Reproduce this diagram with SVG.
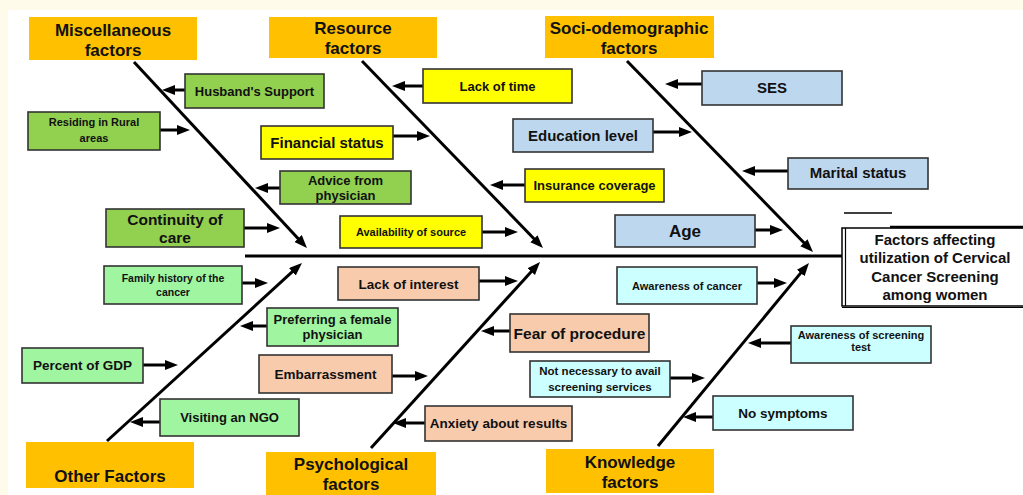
<svg xmlns="http://www.w3.org/2000/svg" width="1023" height="495" viewBox="0 0 1023 495">
<style>
text{font-family:"Liberation Sans",Arial,sans-serif;font-weight:bold;fill:#111;text-anchor:middle}
.box{stroke:#333;stroke-width:1.6}
.cat{fill:#ffc000}
.g{fill:#92d050}
.lg{fill:#a0f5a0}
.y{fill:#ffff00}
.b{fill:#bdd7ee}
.c{fill:#ccffff}
.p{fill:#f8cbad}
.ln{stroke:#000;stroke-width:3;fill:none}
.arr{stroke:#000;stroke-width:3;fill:none;marker-end:url(#ah)}
</style>
<defs>
<marker id="ah" markerUnits="userSpaceOnUse" markerWidth="14" markerHeight="12" refX="6" refY="5" orient="auto">
<path d="M0,0 L13,5 L0,10 z" fill="#000"/>
</marker>
</defs>
<rect width="1023" height="495" fill="#fffbea"/>
<rect x="8" y="10" width="1015" height="485" fill="#fff"/>

<g id="connectors">
<line class="ln" x1="245" y1="256" x2="843" y2="256"/>
<line class="arr" x1="134" y1="62" x2="302.2" y2="242.9"/>
<line class="arr" x1="362" y1="61" x2="538.1" y2="243"/>
<line class="arr" x1="627" y1="61" x2="808.1" y2="247"/>
<line class="arr" x1="107" y1="441" x2="296.8" y2="267.7"/>
<line class="arr" x1="371" y1="448" x2="535.3" y2="267.2"/>
<line class="arr" x1="658" y1="446" x2="804.5" y2="268.4"/>
<line class="arr" x1="185" y1="90" x2="169" y2="90"/>
<line class="arr" x1="160" y1="130" x2="183" y2="130"/>
<line class="arr" x1="393" y1="136" x2="423" y2="136"/>
<line class="arr" x1="280" y1="188" x2="262" y2="188"/>
<line class="arr" x1="244" y1="228" x2="273" y2="228"/>
<line class="arr" x1="423" y1="86" x2="399" y2="86"/>
<line class="arr" x1="653" y1="132" x2="685" y2="132"/>
<line class="arr" x1="525" y1="185" x2="497" y2="185"/>
<line class="arr" x1="482" y1="232" x2="511" y2="232"/>
<line class="arr" x1="702" y1="84" x2="672" y2="84"/>
<line class="arr" x1="788" y1="171" x2="749" y2="171"/>
<line class="arr" x1="755" y1="230" x2="776" y2="230"/>
<line class="arr" x1="757" y1="283" x2="780" y2="283"/>
<line class="arr" x1="242" y1="283" x2="261" y2="283"/>
<line class="arr" x1="267" y1="326" x2="247" y2="326"/>
<line class="arr" x1="143" y1="365" x2="171" y2="365"/>
<line class="arr" x1="160" y1="422" x2="137" y2="422"/>
<line class="arr" x1="479" y1="281" x2="511" y2="281"/>
<line class="arr" x1="510" y1="331" x2="488" y2="331"/>
<line class="arr" x1="392" y1="376" x2="421" y2="376"/>
<line class="arr" x1="425" y1="423" x2="400" y2="423"/>
<line class="arr" x1="670" y1="378" x2="698" y2="378"/>
<line class="arr" x1="791" y1="343" x2="755" y2="343"/>
<line class="arr" x1="713" y1="417" x2="690" y2="417"/>
<line x1="844" y1="213" x2="892" y2="213" stroke="#000" stroke-width="1.5"/>
</g>

<g id="misc"><rect class="cat" x="29" y="17" width="168" height="43"/><text x="113" y="36" font-size="17">Miscellaneous</text><text x="113" y="56" font-size="17">factors</text></g>
<g id="resource"><rect class="cat" x="269" y="17" width="168" height="41"/><text x="353" y="34" font-size="17">Resource</text><text x="353" y="54" font-size="17">factors</text></g>
<g id="socio"><rect class="cat" x="545" y="16" width="169" height="42"/><text x="629" y="34" font-size="17">Soci-odemographic</text><text x="629" y="54" font-size="17">factors</text></g>
<g id="other"><rect class="cat" x="26" y="442" width="168" height="46"/><text x="110" y="482" font-size="17">Other Factors</text></g>
<g id="psych"><rect class="cat" x="266" y="452" width="170" height="43"/><text x="351" y="470" font-size="17">Psychological</text><text x="351" y="490" font-size="17">factors</text></g>
<g id="knowledge"><rect class="cat" x="546" y="449" width="168" height="44"/><text x="630" y="468" font-size="17">Knowledge</text><text x="630" y="488" font-size="17">factors</text></g>

<g id="husband"><rect class="box g" x="185" y="74" width="139" height="34"/><text x="254.5" y="96" font-size="13">Husband's Support</text></g>
<g id="rural"><rect class="box g" x="28" y="112" width="132" height="38"/><text x="94" y="126" font-size="11">Residing in Rural</text><text x="94" y="142" font-size="11">areas</text></g>
<g id="financial"><rect class="box y" x="261" y="126" width="132" height="33"/><text x="327" y="148" font-size="15">Financial status</text></g>
<g id="advice"><rect class="box g" x="280" y="171" width="131" height="33"/><text x="345.5" y="185" font-size="13">Advice from</text><text x="345.5" y="200" font-size="13">physician</text></g>
<g id="continuity"><rect class="box g" x="106" y="209" width="138" height="38"/><text x="175" y="225" font-size="15.5">Continuity of</text><text x="175" y="243" font-size="15.5">care</text></g>
<g id="lacktime"><rect class="box y" x="423" y="69" width="149" height="34"/><text x="497.5" y="91" font-size="13">Lack of time</text></g>
<g id="education"><rect class="box b" x="513" y="119" width="140" height="33"/><text x="583" y="141" font-size="15">Education level</text></g>
<g id="insurance"><rect class="box y" x="525" y="169" width="139" height="33"/><text x="594.5" y="190" font-size="13">Insurance coverage</text></g>
<g id="availability"><rect class="box y" x="340" y="216" width="142" height="32"/><text x="411" y="236" font-size="11">Availability of source</text></g>
<g id="ses"><rect class="box b" x="702" y="71" width="140" height="34"/><text x="772" y="93" font-size="15">SES</text></g>
<g id="marital"><rect class="box b" x="788" y="158" width="140" height="31"/><text x="858" y="178" font-size="15">Marital status</text></g>
<g id="age"><rect class="box b" x="615" y="215" width="140" height="32"/><text x="685" y="237" font-size="17">Age</text></g>
<g id="effect"><rect x="842" y="228" width="200" height="78" fill="#fff" stroke="#000" stroke-width="1.5"/><line x1="845.5" y1="228" x2="845.5" y2="306" stroke="#000" stroke-width="1.2"/><line x1="890" y1="227" x2="1023" y2="227" stroke="#000" stroke-width="2.5"/><line x1="842" y1="307.5" x2="1023" y2="307.5" stroke="#000" stroke-width="1"/>
<text x="935" y="245" font-size="15">Factors affecting</text><text x="935" y="263" font-size="15">utilization of Cervical</text><text x="935" y="282" font-size="15">Cancer Screening</text><text x="935" y="300" font-size="15">among women</text></g>
<g id="awarecancer"><rect class="box c" x="617" y="267" width="140" height="37"/><text x="687" y="290" font-size="11">Awareness of cancer</text></g>
<g id="family"><rect class="box lg" x="104" y="266" width="138" height="38"/><text x="173" y="282" font-size="10.5">Family history of the</text><text x="173" y="296" font-size="10.5">cancer</text></g>
<g id="preferring"><rect class="box lg" x="267" y="308" width="131" height="38"/><text x="332.5" y="324" font-size="13">Preferring a female</text><text x="332.5" y="339" font-size="13">physician</text></g>
<g id="gdp"><rect class="box lg" x="22" y="348" width="121" height="35"/><text x="82.5" y="370" font-size="13.5">Percent of GDP</text></g>
<g id="ngo"><rect class="box lg" x="160" y="399" width="139" height="37"/><text x="229.5" y="422" font-size="13">Visiting an NGO</text></g>
<g id="lackinterest"><rect class="box p" x="338" y="267" width="141" height="33"/><text x="408.5" y="289" font-size="13.5">Lack of interest</text></g>
<g id="fear"><rect class="box p" x="510" y="314" width="139" height="38"/><text x="579.5" y="339" font-size="15.5">Fear of procedure</text></g>
<g id="embarrassment"><rect class="box p" x="259" y="355" width="133" height="38"/><text x="325.5" y="379" font-size="13.5">Embarrassment</text></g>
<g id="anxiety"><rect class="box p" x="425" y="406" width="147" height="35"/><text x="498.5" y="428" font-size="13.5">Anxiety about results</text></g>
<g id="notnecessary"><rect class="box c" x="530" y="361" width="140" height="36"/><text x="600" y="375" font-size="11.5">Not necessary to avail</text><text x="600" y="391" font-size="11.5">screening services</text></g>
<g id="awarescreen"><rect class="box c" x="791" y="326" width="140" height="37"/><text x="861" y="339" font-size="11">Awareness of screening</text><text x="861" y="351" font-size="11">test</text></g>
<g id="nosymptoms"><rect class="box c" x="713" y="396" width="140" height="34"/><text x="783" y="418" font-size="13.5">No symptoms</text></g>
</svg>
